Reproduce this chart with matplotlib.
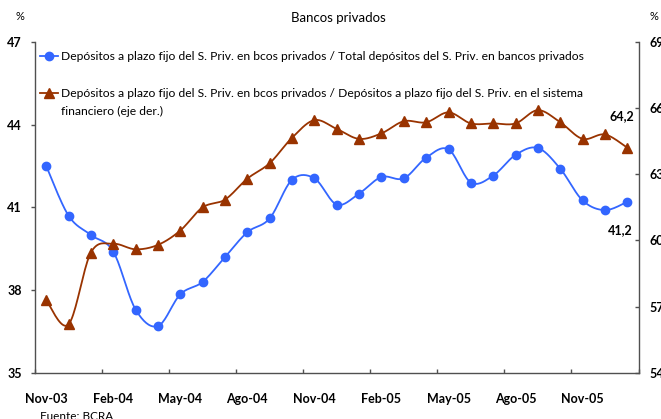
import numpy as np
import matplotlib
matplotlib.use("Agg")
import matplotlib.pyplot as plt
from matplotlib.lines import Line2D

# Monthly categories, Nov-03 .. Ene-06
months = ["Nov-03", "Dic-03", "Ene-04", "Feb-04", "Mar-04", "Abr-04", "May-04",
          "Jun-04", "Jul-04", "Ago-04", "Sep-04", "Oct-04", "Nov-04", "Dic-04",
          "Ene-05", "Feb-05", "Mar-05", "Abr-05", "May-05", "Jun-05", "Jul-05",
          "Ago-05", "Sep-05", "Oct-05", "Nov-05", "Dic-05", "Ene-06"]

# Plazo fijo / total depósitos (bancos privados), %
share_private = [42.5, 40.7, 40.0, 39.4, 37.3, 36.7, 37.85, 38.3, 39.2, 40.1,
                 40.6, 42.0, 42.05, 41.1, 41.5, 42.1, 42.05, 42.8, 43.1, 41.9,
                 42.15, 42.9, 43.15, 42.4, 41.25, 40.9, 41.2]

# Plazo fijo bancos privados / plazo fijo sistema financiero, % (eje der.)
share_system = [57.3, 56.2, 59.45, 59.85, 59.6, 59.8, 60.45, 61.5, 61.85, 62.8,
                63.5, 64.65, 65.45, 65.05, 64.6, 64.85, 65.4, 65.35, 65.8, 65.3,
                65.3, 65.3, 65.9, 65.35, 64.6, 64.8, 64.2]

tick_labels = ["Nov-03", "Feb-04", "May-04", "Ago-04", "Nov-04", "Feb-05",
               "May-05", "Ago-05", "Nov-05"]

left_ticks = [35, 38, 41, 44, 47]
right_ticks = [54, 57, 60, 63, 66, 69]

legend_labels = [
    "Depósitos a plazo fijo del S. Priv. en bcos privados / Total depósitos del S. Priv. en bancos privados",
    "Depósitos a plazo fijo del S. Priv. en bcos privados / Depósitos a plazo fijo del S. Priv. en el sistema\nfinanciero (eje der.)",
]

BLUE = "#3366FF"
BROWN = "#993300"
SPINE = "#505050"
FONT = "Lato"
TICK_FS = 9
LEGEND_FS = 8.7

W, H = 661, 419


def smooth(x, y, n=20):
    """Cubic Bezier smoothing through every point (Catmull-Rom style)."""
    x = np.asarray(x, float)
    y = np.asarray(y, float)
    px = np.concatenate([[x[0]], x, [x[-1]]])
    py = np.concatenate([[y[0]], y, [y[-1]]])
    xs, ys = [], []
    t = np.linspace(0, 1, n)
    for i in range(1, len(x)):
        p0 = np.array([px[i - 1], py[i - 1]])
        p1 = np.array([px[i], py[i]])
        p2 = np.array([px[i + 1], py[i + 1]])
        p3 = np.array([px[i + 2], py[i + 2]])
        c1 = p1 + (p2 - p0) / 6.0
        c2 = p2 - (p3 - p1) / 6.0
        b = ((1 - t) ** 3)[:, None] * p1 + (3 * (1 - t) ** 2 * t)[:, None] * c1 \
            + (3 * (1 - t) * t ** 2)[:, None] * c2 + (t ** 3)[:, None] * p2
        xs.append(b[:, 0])
        ys.append(b[:, 1])
    return np.concatenate(xs), np.concatenate(ys)


fig = plt.figure(figsize=(W / 100, H / 100), dpi=100)
ax = fig.add_axes([35 / W, 1 - 373 / H, (638.5 - 35) / W, (373 - 41.7) / H])
ax2 = ax.twinx()

x = np.arange(len(months))

sx, sy = smooth(x, share_private)
ax.plot(sx, sy, color=BLUE, lw=1.3, zorder=3)
ax.plot(x, share_private, "o", color=BLUE, ms=6, mec=BLUE, zorder=4)

tx, ty = smooth(x, share_system)
ax2.plot(tx, ty, color=BROWN, lw=1.3, zorder=3)
ax2.plot(x, share_system, "^", color=BROWN, ms=6.5, mec=BROWN, zorder=4)

# axes limits and ticks
ax.set_xlim(-0.5, len(months) - 0.5)
ax.set_ylim(35, 47)
ax2.set_ylim(54, 69)

ax.set_xticks(np.arange(-0.5, len(months), 3))
ax.set_xticklabels([])
ax.set_xticks(np.arange(0, len(months), 3)[:len(tick_labels)], minor=True)
ax.set_xticklabels(tick_labels, minor=True, fontfamily=FONT,
                   fontweight="bold", fontsize=TICK_FS)
ax.tick_params(axis="x", which="major", direction="in", length=3,
               color=SPINE, width=1)
ax.tick_params(axis="x", which="minor", length=0, pad=14.5)

ax.set_yticks(left_ticks)
ax.set_yticklabels([str(v) for v in left_ticks], fontfamily=FONT,
                   fontweight="bold", fontsize=TICK_FS)
ax.tick_params(axis="y", direction="out", length=3, color=SPINE, width=1, pad=6.5)

ax2.set_yticks(right_ticks)
ax2.set_yticklabels([str(v) for v in right_ticks], fontfamily=FONT,
                    fontweight="bold", fontsize=TICK_FS)
ax2.tick_params(axis="y", direction="in", length=3, color=SPINE, width=1, pad=8)

for a in (ax, ax2):
    a.spines["top"].set_visible(False)
    for s in ("left", "right", "bottom"):
        a.spines[s].set_color(SPINE)
        a.spines[s].set_linewidth(1)
ax.spines["right"].set_visible(False)
ax2.spines["left"].set_visible(False)
ax2.spines["bottom"].set_visible(False)

# end-of-series value labels
ax2.annotate(f"{share_system[-1]:.1f}".replace(".", ","),
             xy=(x[-1], share_system[-1]), xytext=(5, 23),
             textcoords="offset points", ha="right", va="center",
             fontfamily=FONT, fontweight="bold", fontsize=TICK_FS)
ax.annotate(f"{share_private[-1]:.1f}".replace(".", ","),
            xy=(x[-1], share_private[-1]), xytext=(4, -20),
            textcoords="offset points", ha="right", va="center",
            fontfamily=FONT, fontweight="bold", fontsize=TICK_FS)


def fx(px):
    return px / W


def fy(py):
    return 1 - py / H


# legend drawn inside the plot area
fig.add_artist(Line2D([fx(40), fx(58)], [fy(56), fy(56)], color=BLUE, lw=1.3))
fig.add_artist(Line2D([fx(48.5)], [fy(56)], marker="o", color=BLUE, ms=6))
fig.text(fx(61), fy(56), legend_labels[0], fontfamily=FONT, fontsize=LEGEND_FS,
         va="center", ha="left")
fig.add_artist(Line2D([fx(40), fx(58)], [fy(93.5), fy(93.5)], color=BROWN, lw=1.3))
fig.add_artist(Line2D([fx(48.5)], [fy(93.5)], marker="^", color=BROWN, ms=6.5))
fig.text(fx(61), fy(93.5), legend_labels[1].split("\n")[0], fontfamily=FONT,
         fontsize=LEGEND_FS, va="center", ha="left")
fig.text(fx(61), fy(111.5), legend_labels[1].split("\n")[1], fontfamily=FONT,
         fontsize=LEGEND_FS, va="center", ha="left")

# headings and source
fig.text(fx(338), fy(18), "Bancos privados", fontfamily=FONT, fontsize=9.5,
         ha="center", va="center")
fig.text(fx(20), fy(17), "%", fontfamily=FONT, fontsize=8, ha="center", va="center")
fig.text(fx(654), fy(17), "%", fontfamily=FONT, fontsize=8, ha="center", va="center")
fig.text(fx(40), fy(411), "Fuente: BCRA", fontfamily=FONT, fontsize=8.5,
         ha="left", va="top")

fig.savefig("out.png", dpi=100)
